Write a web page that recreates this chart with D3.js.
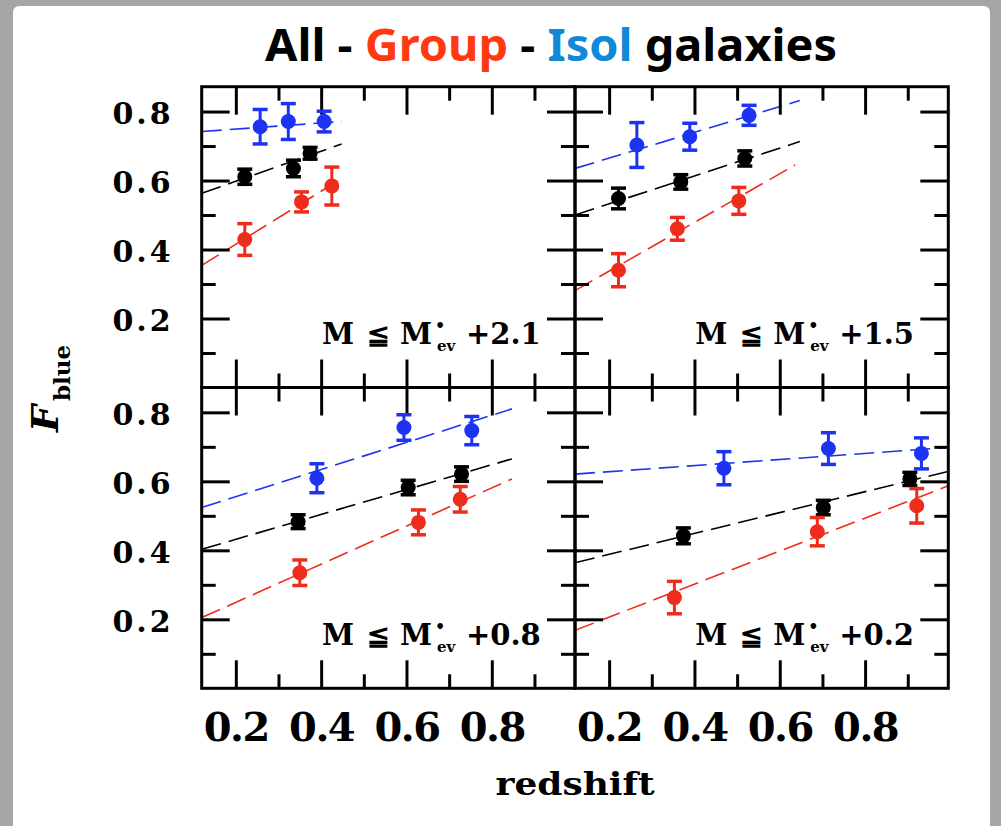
<!DOCTYPE html>
<html>
<head>
<meta charset="utf-8">
<script src="https://cdn.jsdelivr.net/npm/d3@7"></script>
<style>
  body { margin: 0; background: #a6a6a6; }
  svg { display: block; }
</style>
</head>
<body>
<svg id="chart" width="1001" height="826"></svg>
<script>
// panels: top-left, top-right, bottom-left, bottom-right
var panelCuts = ["+2.1", "+1.5", "+0.8", "+0.2"];

// points as [redshift, F_blue, error]
var allPts = [
  [[0.221, 0.611, 0.022], [0.335, 0.635, 0.024], [0.374, 0.679, 0.017]],
  [[0.222, 0.548, 0.030], [0.368, 0.596, 0.021], [0.518, 0.664, 0.022]],
  [[0.346, 0.483, 0.020], [0.604, 0.582, 0.021], [0.729, 0.621, 0.021]],
  [[0.374, 0.442, 0.023], [0.702, 0.524, 0.021], [0.905, 0.607, 0.019]]
];
var groupPts = [
  [[0.221, 0.429, 0.046], [0.354, 0.538, 0.029], [0.425, 0.584, 0.055]],
  [[0.222, 0.340, 0.048], [0.360, 0.460, 0.033], [0.504, 0.541, 0.039]],
  [[0.350, 0.335, 0.037], [0.628, 0.481, 0.036], [0.726, 0.548, 0.037]],
  [[0.353, 0.263, 0.047], [0.688, 0.454, 0.041], [0.921, 0.529, 0.050]]
];
var isolPts = [
  [[0.257, 0.756, 0.050], [0.323, 0.771, 0.052], [0.407, 0.771, 0.030]],
  [[0.265, 0.703, 0.065], [0.389, 0.727, 0.039], [0.528, 0.789, 0.029]],
  [[0.390, 0.609, 0.042], [0.594, 0.756, 0.037], [0.753, 0.747, 0.041]],
  [[0.469, 0.638, 0.048], [0.714, 0.695, 0.046], [0.932, 0.681, 0.045]]
];

// fitted lines as [z0, f0, z1, f1]
var allFit = [
  [0.12, 0.563, 0.448, 0.706],
  [0.12, 0.500, 0.647, 0.713],
  [0.12, 0.403, 0.847, 0.665],
  [0.12, 0.364, 0.995, 0.629]
];
var groupFit = [
  [0.12, 0.354, 0.448, 0.606],
  [0.12, 0.281, 0.636, 0.645],
  [0.12, 0.205, 0.847, 0.607],
  [0.12, 0.168, 0.995, 0.587]
];
var isolFit = [
  [0.12, 0.742, 0.448, 0.771],
  [0.12, 0.635, 0.647, 0.832],
  [0.12, 0.524, 0.847, 0.810],
  [0.12, 0.621, 0.995, 0.698]
];

var zMajor = [0.2, 0.4, 0.6, 0.8],
  zMinor = [0.3, 0.5, 0.7, 0.9],
  fMajor = [0.2, 0.4, 0.6, 0.8],
  fMinor = [0.1, 0.3, 0.5, 0.7];

var svg = d3.select("#chart");

// white sheet over the grey backdrop
svg.append("rect")
  .attr("x", 13).attr("y", 6)
  .attr("width", 977).attr("height", 840)
  .attr("rx", 6)
  .attr("fill", "#fff");

var frameX = 201.7, frameY = 86.7,
  pw = 373.3, ph = 300.8;

var x = d3.scaleLinear().domain([0.12, 0.995]).range([0, pw]);
var y = d3.scaleLinear().domain([0, 0.872]).range([ph, 0]);

var series = [
  { pts: allPts, fit: allFit, color: "#000" },
  { pts: groupPts, fit: groupFit, color: "#ee2c1c" },
  { pts: isolPts, fit: isolFit, color: "#1c33f2" }
];

var labelFont = "'DejaVu Serif', serif";

function ticks(g, axis, tx, ty){
  var a = g.append("g")
    .attr("transform", "translate(" + tx + "," + ty + ")")
    .call(axis);
  a.select(".domain").remove();
  a.selectAll("line").attr("stroke", "#000").attr("stroke-width", 3);
}

panelCuts.forEach(function(cut, i){
  var col = i % 2, row = Math.floor(i / 2);
  var g = svg.append("g")
    .attr("transform", "translate(" + (frameX + col * pw) + "," + (frameY + row * ph) + ")");

  g.append("clipPath").attr("id", "clip" + i)
    .append("rect").attr("width", pw).attr("height", ph);

  // fit lines
  series.forEach(function(s){
    var f = s.fit[i];
    g.append("line")
      .attr("clip-path", "url(#clip" + i + ")")
      .attr("x1", x(f[0])).attr("y1", y(f[1]))
      .attr("x2", x(f[2])).attr("y2", y(f[3]))
      .attr("stroke", s.color)
      .attr("stroke-width", 1.6)
      .attr("stroke-dasharray", "20,8");
  });

  // ticks on all four sides
  [[zMajor, 28], [zMinor, 14]].forEach(function(t){
    ticks(g, d3.axisBottom(x).tickValues(t[0]).tickSize(-t[1]).tickFormat(""), 0, ph);
    ticks(g, d3.axisTop(x).tickValues(t[0]).tickSize(-t[1]).tickFormat(""), 0, 0);
  });
  [[fMajor, 28], [fMinor, 14]].forEach(function(t){
    ticks(g, d3.axisLeft(y).tickValues(t[0]).tickSize(-t[1]).tickFormat(""), 0, 0);
    ticks(g, d3.axisRight(y).tickValues(t[0]).tickSize(-t[1]).tickFormat(""), pw, 0);
  });

  g.append("rect")
    .attr("width", pw).attr("height", ph)
    .attr("fill", "none")
    .attr("stroke", "#000")
    .attr("stroke-width", 3);

  // points with error bars
  series.forEach(function(s){
    s.pts[i].forEach(function(d){
      var cx = x(d[0]);
      g.append("line")
        .attr("x1", cx).attr("x2", cx)
        .attr("y1", y(d[1] - d[2])).attr("y2", y(d[1] + d[2]))
        .attr("stroke", s.color).attr("stroke-width", 3);
      [d[1] - d[2], d[1] + d[2]].forEach(function(v){
        g.append("line")
          .attr("x1", cx - 7.5).attr("x2", cx + 7.5)
          .attr("y1", y(v)).attr("y2", y(v))
          .attr("stroke", s.color).attr("stroke-width", 3.5);
      });
      g.append("circle")
        .attr("cx", cx).attr("cy", y(d[1]))
        .attr("r", 7.5)
        .attr("fill", s.color);
    });
  });

  // magnitude cut label
  var R = pw, base = 257.5;
  var t = g.append("text")
    .attr("y", base)
    .attr("font-family", labelFont)
    .attr("font-weight", "bold")
    .attr("font-size", 29)
    .attr("fill", "#000");
  t.append("tspan").attr("x", R - 253).text("M");
  t.append("tspan").attr("x", R - 208).attr("font-size", 27).text("\u2266");
  t.append("tspan").attr("x", R - 175).text("M");
  t.append("tspan").attr("x", R - 140).attr("y", base - 13).attr("font-size", 16).text("\u2022");
  t.append("tspan").attr("x", R - 138).attr("y", base + 7).attr("font-size", 15).text("ev");
  t.append("tspan").attr("x", R - 109).attr("y", base).text(cut);

  // tick labels on outer sides only
  if (col === 0) {
    var ya = g.append("g")
      .call(d3.axisLeft(y).tickValues(fMajor).tickSize(0).tickPadding(28).tickFormat(d3.format(".1f")));
    ya.select(".domain").remove();
    ya.attr("font-family", labelFont).attr("font-size", 30).attr("font-weight", "bold");
    ya.selectAll("text").attr("letter-spacing", 3).attr("dy", "0.4em");
  }
  if (row === 1) {
    var xa = g.append("g")
      .attr("transform", "translate(0," + ph + ")")
      .call(d3.axisBottom(x).tickValues(zMajor).tickSize(0).tickPadding(24).tickFormat(d3.format(".1f")));
    xa.select(".domain").remove();
    xa.attr("font-family", labelFont).attr("font-size", 40).attr("font-weight", "bold");
    xa.selectAll("text").attr("letter-spacing", -1.5);
  }
});

// axis titles
svg.append("text")
  .attr("x", frameX + pw).attr("y", 795)
  .attr("text-anchor", "middle")
  .attr("font-family", labelFont)
  .attr("font-weight", "bold")
  .attr("font-size", 31)
  .attr("textLength", 159)
  .attr("lengthAdjust", "spacingAndGlyphs")
  .text("redshift");

var yt = svg.append("text")
  .attr("transform", "translate(58,432) rotate(-90)")
  .attr("font-family", labelFont)
  .attr("font-weight", "bold");
yt.append("tspan").attr("font-style", "italic").attr("font-size", 38).text("F");
yt.append("tspan").attr("dy", 12).attr("dx", 4).attr("font-size", 23).text("blue");

// title
var title = svg.append("text")
  .attr("x", 551).attr("y", 61)
  .attr("text-anchor", "middle")
  .attr("font-family", "'Comic Sans MS', 'Noto Sans', sans-serif")
  .attr("font-weight", "bold")
  .attr("font-size", 44)
  .attr("textLength", 572)
  .attr("lengthAdjust", "spacingAndGlyphs");
title.append("tspan").attr("fill", "#000").text("All - ");
title.append("tspan").attr("fill", "#ff3a12").text("Group");
title.append("tspan").attr("fill", "#000").text(" - ");
title.append("tspan").attr("fill", "#1188d8").text("Isol");
title.append("tspan").attr("fill", "#000").text(" galaxies");
</script>
</body>
</html>
